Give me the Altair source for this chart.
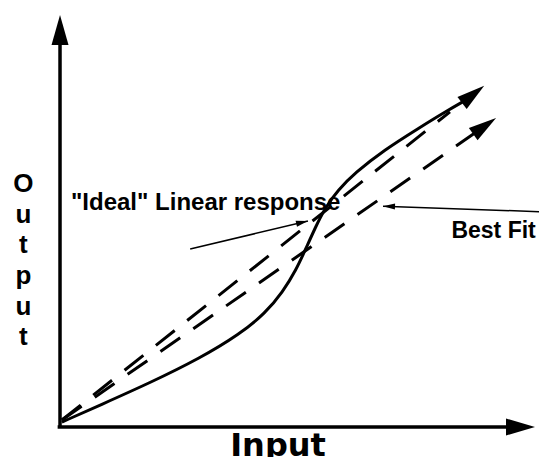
import math
import altair as alt
import pandas as pd

# ---- frame (input / output units, axes corner at 0,0; arrow tips at 100) ----
X_MIN, X_MAX = -10.95, 100.84
Y_MIN, Y_MAX = -7.28, 101.70
W, H = 531, 449
PX_X = W / (X_MAX - X_MIN)
PX_Y = H / (Y_MAX - Y_MIN)

# ---- data ----
# actual (non-linear) response curve
resp_x = [0.4, 8.4, 18.9, 29.5, 37.9, 43.2, 46.9, 49.7, 51.8, 53.7, 55.8, 58.5, 62.1, 68.2, 75.6, 81.1, 85.5]
resp_y = [1.2, 5.3, 10.7, 16.7, 22.6, 27.6, 32.8, 38.1, 43.4, 48.3, 53.2, 57.5, 61.7, 67.2, 72.6, 76.5, 79.4]
resp_tip = (89.3, 82.8)

# "ideal" linear response
ideal_x = [0.4, 82.1]
ideal_y = [1.7, 76.5]

# best fit line
fit_x = [0.4, 87.4]
fit_y = [1.7, 71.4]
fit_tip = (91.8, 75.0)

# axes
yaxis_x = [0.0, 0.0]
yaxis_y = [0.0, 93.0]
yaxis_tip = (0.0, 100.0)
xaxis_x = [-0.5, 95.0]
xaxis_y = [0.0, 0.0]
xaxis_tip = (100.0, 0.0)

# annotation pointers (start -> tip)
ideal_ptr_x = [27.4, 52.2]
ideal_ptr_y = [43.2, 50.0]
fit_ptr_x = [102.5, 68.0]
fit_ptr_y = [52.2, 53.6]

# texts
ideal_label = '"Ideal" Linear response'
ideal_label_pos = (2.3, 52.7)
fit_label = "Best Fit"
fit_label_pos = (82.4, 45.9)
y_title = ["O", "u", "t", "p", "u", "t"]
y_title_pos = (-7.7, 57.0)
x_title = "Input"
x_title_pos = (45.9, -7.0)


def angle_to(x0, y0, x1, y1):
    a = math.degrees(math.atan2((x1 - x0) * PX_X, (y1 - y0) * PX_Y))
    return a % 360


XS = alt.Scale(domain=[X_MIN, X_MAX], nice=False, zero=False)
YS = alt.Scale(domain=[Y_MIN, Y_MAX], nice=False, zero=False)


def enc(ch):
    return ch.encode(
        x=alt.X("x:Q", scale=XS, axis=None),
        y=alt.Y("y:Q", scale=YS, axis=None),
    )


def line(xs, ys, width, dash=None, interp="linear"):
    df = pd.DataFrame({"x": xs, "y": ys, "o": list(range(len(xs)))})
    kw = dict(color="black", strokeWidth=width, strokeCap="butt", interpolate=interp)
    if dash:
        kw["strokeDash"] = dash
    return alt.Chart(df).mark_line(**kw).encode(
        x=alt.X("x:Q", scale=XS, axis=None),
        y=alt.Y("y:Q", scale=YS, axis=None),
        order="o:Q",
    )


def head(tips, angles, length, width):
    r = 10.0
    path = "M0,0L{a:.3f},{b:.3f}L{c:.3f},{b:.3f}Z".format(a=width / 2 / r, b=length / r, c=-width / 2 / r)
    df = pd.DataFrame({"x": [t[0] for t in tips], "y": [t[1] for t in tips], "angle": angles})
    return alt.Chart(df).mark_point(
        shape=path, size=400, filled=True, color="black", opacity=1, strokeWidth=0
    ).encode(
        x=alt.X("x:Q", scale=XS, axis=None),
        y=alt.Y("y:Q", scale=YS, axis=None),
        angle=alt.Angle("angle:Q", scale=None),
    )


def text(label, pos, **kw):
    df = pd.DataFrame({"x": [pos[0]], "y": [pos[1]]})
    return enc(alt.Chart(df).mark_text(text=label, color="black", fontWeight="bold", **kw))


layers = [
    line(yaxis_x, yaxis_y, 3.5),
    line(xaxis_x, xaxis_y, 3.5),
    head([yaxis_tip], [0.0], 30, 17),
    head([xaxis_tip], [90.0], 29, 17),
    line(ideal_x, ideal_y, 3, [24, 16]),
    line(fit_x, fit_y, 3, [24, 16]),
    line(resp_x, resp_y, 3, interp="basis"),
    head(
        [resp_tip, fit_tip],
        [
            angle_to(resp_x[-1], resp_y[-1], *resp_tip),
            angle_to(fit_x[-1], fit_y[-1], *fit_tip),
        ],
        28,
        15,
    ),
    line(ideal_ptr_x, ideal_ptr_y, 1.5),
    line(fit_ptr_x, fit_ptr_y, 1.5),
    head(
        [(ideal_ptr_x[1], ideal_ptr_y[1]), (fit_ptr_x[1], fit_ptr_y[1])],
        [
            angle_to(ideal_ptr_x[0], ideal_ptr_y[0], ideal_ptr_x[1], ideal_ptr_y[1]),
            angle_to(fit_ptr_x[0], fit_ptr_y[0], fit_ptr_x[1], fit_ptr_y[1]),
        ],
        12,
        6,
    ),
    text(ideal_label, ideal_label_pos, font="Liberation Sans", fontSize=24, align="left", baseline="alphabetic"),
    text(fit_label, fit_label_pos, font="Liberation Sans", fontSize=23, align="left", baseline="alphabetic"),
    text(y_title, y_title_pos, font="Liberation Sans", fontSize=26, align="center", baseline="alphabetic", lineHeight=30.6),
    text(x_title, x_title_pos, font="DejaVu Sans", fontSize=32, align="center", baseline="alphabetic"),
]

chart = (
    alt.layer(*layers)
    .properties(width=W, height=H, padding=0, autosize="none", background="white")
    .configure_view(stroke=None)
)

chart.save("out.html", embed_options={"renderer": "svg", "actions": False})
